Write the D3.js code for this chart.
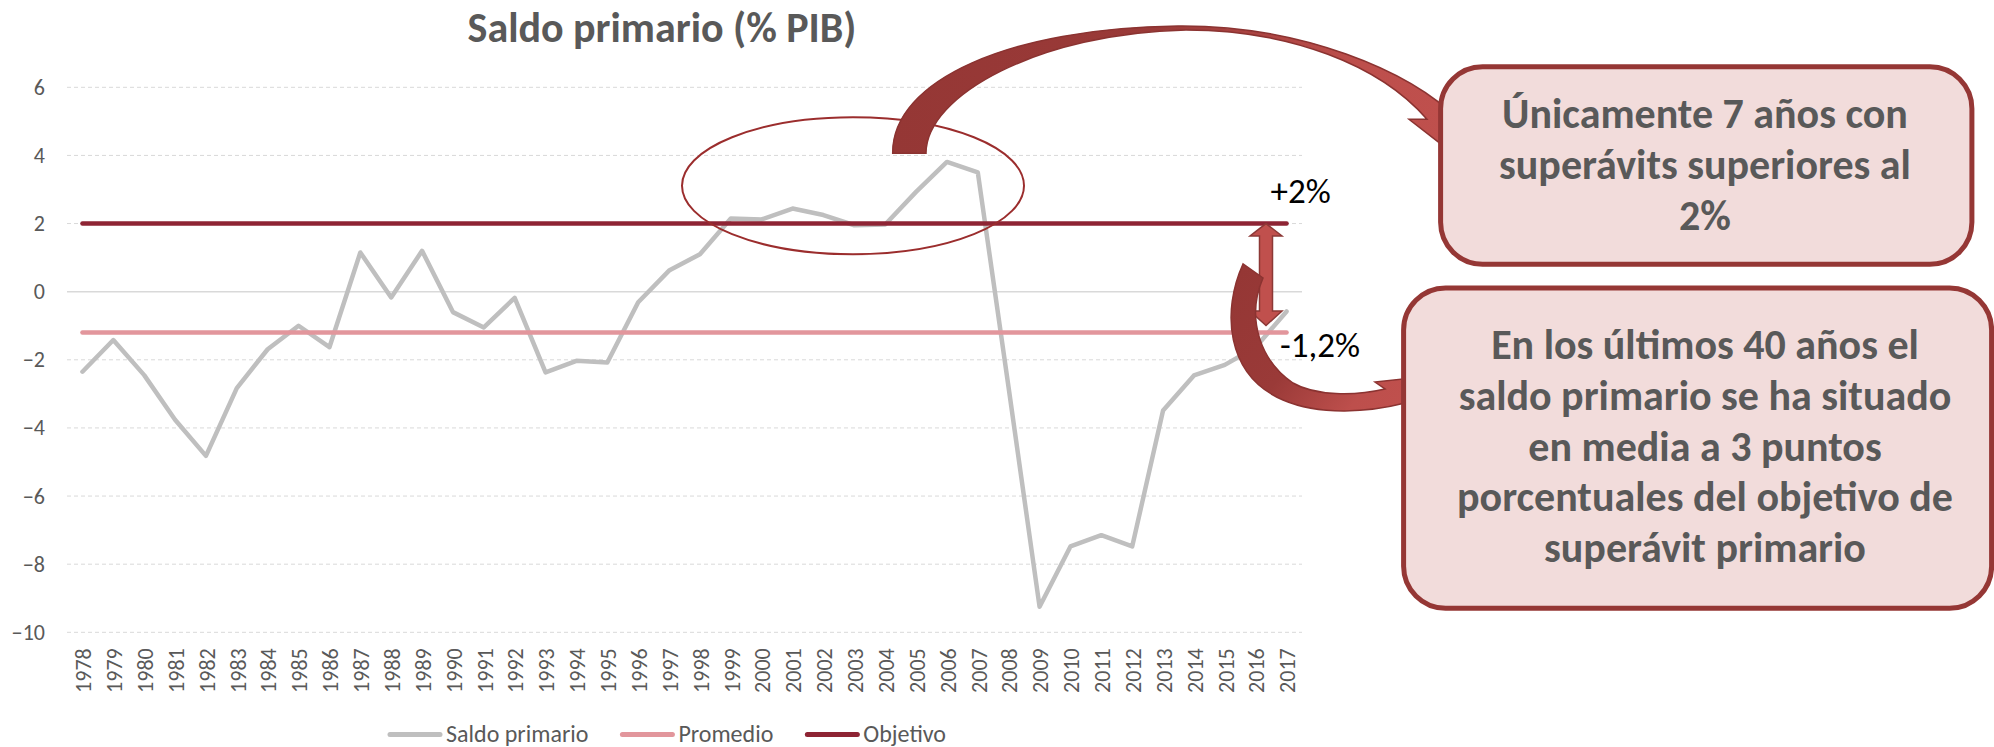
<!DOCTYPE html>
<html>
<head>
<meta charset="utf-8">
<script src="https://cdn.jsdelivr.net/npm/d3@7/dist/d3.min.js"></script>
<style>
  body { margin: 0; background: #fff; }
  text { font-family: Calibri, Carlito, Lato, sans-serif; }
</style>
</head>
<body>
<div class="container"></div>
<script>
// data
const years = [1978,1979,1980,1981,1982,1983,1984,1985,1986,1987,1988,1989,1990,1991,1992,1993,1994,1995,1996,1997,
               1998,1999,2000,2001,2002,2003,2004,2005,2006,2007,2008,2009,2010,2011,2012,2013,2014,2015,2016,2017]
const saldo = [-2.35,-1.42,-2.45,-3.76,-4.82,-2.83,-1.69,-1.0,-1.63,1.15,-0.17,1.2,-0.6,-1.05,-0.18,-2.37,-2.03,-2.08,-0.31,0.62,
               1.1,2.15,2.12,2.44,2.25,1.95,1.97,2.93,3.81,3.5,-2.83,-9.25,-7.48,-7.15,-7.48,-3.49,-2.46,-2.15,-1.63,-0.58]
const promedio = -1.2
const objetivo = 2
const yTicks = [-10,-8,-6,-4,-2,0,2,4,6]

const seriesNames = ["Saldo primario","Promedio","Objetivo"]
const seriesColors = ["#bfbfbf","#e2969c","#8e2434"]

const title = "Saldo primario (% PIB)"
const note1 = ["Únicamente 7 años con","superávits superiores al","2%"]
const note2 = ["En los últimos 40 años el","saldo primario se ha situado","en media a 3 puntos","porcentuales del objetivo de","superávit primario"]
const gapLabels = ["+2%","-1,2%"]

// chart size
const w = 1994
const h = 747
const plot = {left: 67, right: 1302, top: 87.3, bottom: 632.3}
const textGrey = "#595959"
const font = 'Calibri, Carlito, Lato, sans-serif'

const svg = d3.select('.container')
  .append('svg')
  .attr('width', w)
  .attr('height', h)

const defs = svg.append('defs')

// scales
const xScale = d3.scaleBand()
  .domain(years)
  .range([plot.left, plot.right])
const xc = yr => xScale(yr) + xScale.bandwidth() / 2

const yScale = d3.scaleLinear()
  .domain([-10, 6])
  .range([plot.bottom, plot.top])

// title
svg.append('text')
  .attr('x', 662)
  .attr('y', 41.7)
  .attr('text-anchor', 'middle')
  .style('font-size', '42px')
  .style('font-weight', 'bold')
  .attr('fill', textGrey)
  .text(title)

// gridlines
svg.append('g')
  .selectAll('line')
  .data(yTicks)
  .enter()
  .append('line')
  .attr('x1', plot.left)
  .attr('x2', plot.right)
  .attr('y1', d => yScale(d))
  .attr('y2', d => yScale(d))
  .attr('stroke', '#d9d9d9')
  .attr('stroke-width', d => d === 0 ? 1.5 : 1)
  .attr('stroke-dasharray', d => d === 0 ? null : '4,3')

// y axis
const yAxis = d3.axisLeft(yScale)
  .tickValues(yTicks)
  .tickSize(0)
  .tickPadding(22)

const yg = svg.append('g')
  .attr('transform', 'translate(' + plot.left + ',0)')
  .call(yAxis)
yg.select('.domain').remove()
yg.selectAll('text')
  .style('font-size', '22px')
  .style('font-family', font)
  .attr('fill', textGrey)

// x axis, labels turned
const xAxis = d3.axisBottom(xScale)
  .tickSize(0)

const xg = svg.append('g')
  .attr('transform', 'translate(0,' + plot.bottom + ')')
  .call(xAxis)
xg.select('.domain').remove()
xg.selectAll('text')
  .attr('transform', 'rotate(-90)')
  .attr('text-anchor', 'end')
  .attr('x', -16)
  .attr('y', 1)
  .attr('dy', '0.35em')
  .style('font-size', '22px')
  .style('font-family', font)
  .attr('fill', textGrey)

// series
const line = d3.line()
  .x(d => xc(d[0]))
  .y(d => yScale(d[1]))

svg.append('path')
  .datum(years.map((yr, i) => [yr, saldo[i]]))
  .attr('d', line)
  .attr('fill', 'none')
  .attr('stroke', seriesColors[0])
  .attr('stroke-width', 4.5)
  .attr('stroke-linejoin', 'round')
  .attr('stroke-linecap', 'round')

const ends = [years[0], years[years.length - 1]]
;[promedio, objetivo].forEach((v, i) => {
  svg.append('path')
    .datum(ends.map(yr => [yr, v]))
    .attr('d', line)
    .attr('fill', 'none')
    .attr('stroke', seriesColors[i + 1])
    .attr('stroke-width', 4.5)
    .attr('stroke-linecap', 'round')
})

// legend
const legend = svg.append('g').attr('transform', 'translate(388,734.5)')
let lx = 0
seriesNames.forEach((name, i) => {
  legend.append('line')
    .attr('x1', lx + 2).attr('x2', lx + 52)
    .attr('y1', 0).attr('y2', 0)
    .attr('stroke', seriesColors[i])
    .attr('stroke-width', 5)
    .attr('stroke-linecap', 'round')
  const t = legend.append('text')
    .attr('x', lx + 58)
    .attr('y', 7)
    .style('font-size', '24px')
    .attr('fill', textGrey)
    .text(name)
  lx = lx + 58 + t.node().getComputedTextLength() + 32
})

// ellipse round the surplus years
svg.append('ellipse')
  .attr('cx', 853)
  .attr('cy', 185.7)
  .attr('rx', 171)
  .attr('ry', 68.5)
  .attr('fill', 'none')
  .attr('stroke', '#9b2d2d')
  .attr('stroke-width', 2)

// gradients for the curved arrows
const grad = (id, x1, y1, x2, y2) => {
  const g = defs.append('linearGradient')
    .attr('id', id)
    .attr('gradientUnits', 'userSpaceOnUse')
    .attr('x1', x1).attr('y1', y1).attr('x2', x2).attr('y2', y2)
  g.append('stop').attr('offset', 0).attr('stop-color', '#953735')
  g.append('stop').attr('offset', 0.45).attr('stop-color', '#9a3a38')
  g.append('stop').attr('offset', 0.8).attr('stop-color', '#bd4f4c')
  g.append('stop').attr('offset', 1).attr('stop-color', '#c0504d')
}
grad('arrowTop', 890, 0, 1476, 0)
grad('arrowBot', 1240, 270, 1410, 400)

// curved arrow to first box
svg.append('path')
  .attr('d', 'M892.7,153.3 C892,80 1010,28 1178,26 C1300,25 1410,70 1460,121 ' +
             'L1476,121.7 L1452,152.7 L1409,119.3 L1427,119.3 ' +
             'C1380,65 1290,30 1186,30 C1040,33 926,95 926,153.3 Z')
  .attr('fill', 'url(#arrowTop)')
  .attr('stroke', '#8b3331')
  .attr('stroke-width', 1.5)

// double arrow between objective and average
const da = 1266
svg.append('path')
  .attr('d', 'M' + da + ',' + yScale(objetivo) + ' L' + (da + 16) + ',236 L' + (da + 6.5) + ',236 L' + (da + 6.5) + ',311 L' + (da + 16) + ',311 ' +
             'L' + da + ',' + (yScale(promedio) - 7) + ' L' + (da - 16) + ',311 L' + (da - 6.5) + ',311 L' + (da - 6.5) + ',236 L' + (da - 16) + ',236 Z')
  .attr('fill', '#c0504d')
  .attr('stroke', '#8c3836')
  .attr('stroke-width', 1.5)

// curved arrow to second box
svg.append('path')
  .attr('d', 'M1243,264 C1222,310 1225,375 1283,400 C1320,416 1370,412 1405,403 ' +
             'L1416,410 L1412,378 L1375,382 L1385,389 ' +
             'C1355,396 1315,396 1293,383 C1262,362 1245,320 1263,278 Z')
  .attr('fill', 'url(#arrowBot)')
  .attr('stroke', '#8b3331')
  .attr('stroke-width', 1.5)

// gap labels
svg.append('text')
  .attr('x', 1270.5).attr('y', 203.3)
  .style('font-size', '35px')
  .attr('fill', '#000')
  .text(gapLabels[0])
svg.append('text')
  .attr('x', 1280).attr('y', 356.7)
  .style('font-size', '35px')
  .attr('fill', '#000')
  .text(gapLabels[1])

// note boxes
const boxes = [
  {x: 1440.6, y: 66.7, w: 531.3, h: 197.6, lines: note1, y0: 128.3},
  {x: 1403.6, y: 288, w: 588, h: 320.3, lines: note2, y0: 359}
]
boxes.forEach(b => {
  svg.append('rect')
    .attr('x', b.x).attr('y', b.y)
    .attr('width', b.w).attr('height', b.h)
    .attr('rx', 42).attr('ry', 42)
    .attr('fill', '#f2dcdb')
    .attr('stroke', '#953735')
    .attr('stroke-width', 5)
  svg.append('g')
    .selectAll('text')
    .data(b.lines)
    .enter()
    .append('text')
    .attr('x', 1705)
    .attr('y', (d, i) => b.y0 + i * 50.8)
    .attr('text-anchor', 'middle')
    .style('font-size', '42px')
    .style('font-weight', 'bold')
    .attr('fill', textGrey)
    .text(d => d)
})
</script>
</body>
</html>
